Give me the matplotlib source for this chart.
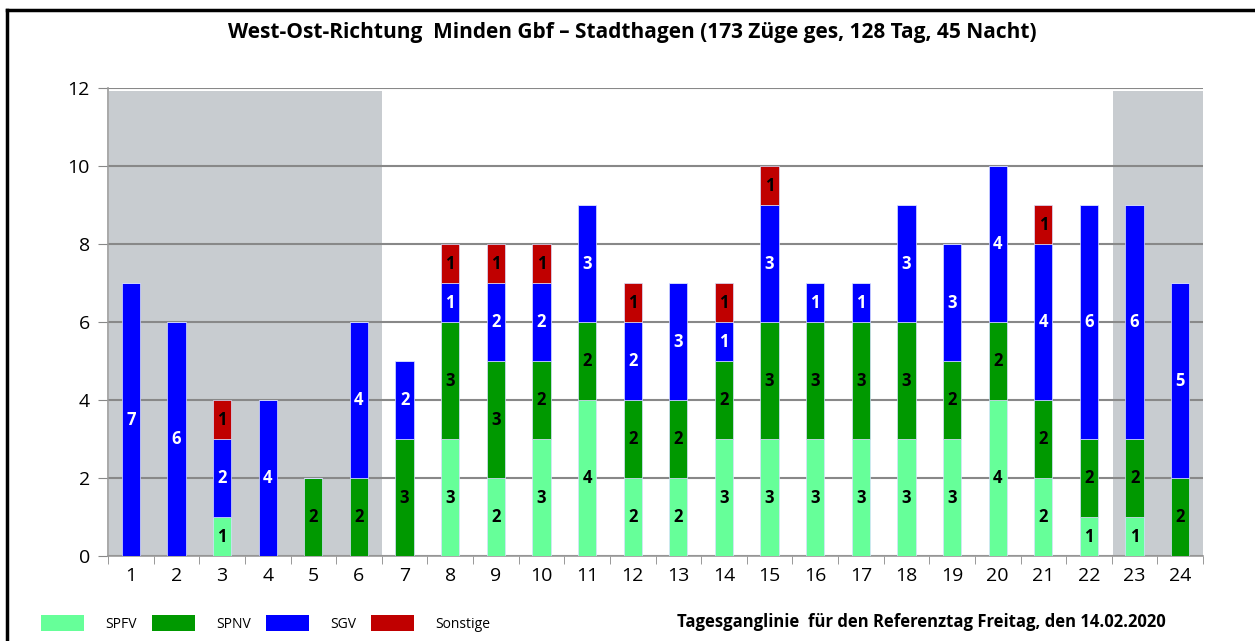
import numpy as np
import matplotlib
matplotlib.use("Agg")
import matplotlib.pyplot as plt
from matplotlib.patches import Patch
from matplotlib.lines import Line2D

plt.rcParams['font.family'] = ['Liberation Sans Narrow', 'Open Sans', 'DejaVu Sans']

# hourly train counts, hours 1..24
hours = list(range(1, 25))
spfv = [0, 0, 1, 0, 0, 0, 0, 3, 2, 3, 4, 2, 2, 3, 3, 3, 3, 3, 3, 4, 2, 1, 1, 0]
spnv = [0, 0, 0, 0, 2, 2, 3, 3, 3, 2, 2, 2, 2, 2, 3, 3, 3, 3, 2, 2, 2, 2, 2, 2]
sgv = [7, 6, 2, 4, 0, 4, 2, 1, 2, 2, 3, 2, 3, 1, 3, 1, 1, 3, 3, 4, 4, 6, 6, 5]
sonstige = [0, 0, 1, 0, 0, 0, 0, 1, 1, 1, 0, 1, 0, 1, 1, 0, 0, 0, 0, 0, 1, 0, 0, 0]

series = [
    ("SPFV", spfv, "#66ff99", "black"),
    ("SPNV", spnv, "#009900", "black"),
    ("SGV", sgv, "#0000ff", "white"),
    ("Sonstige", sonstige, "#c00000", "black"),
]

# night hours shaded grey
night_spans = [(0.5, 6.5), (22.5, 24.5)]

fig = plt.figure(figsize=(12.55, 6.41), dpi=100)
ax = fig.add_axes([0.0861, 0.1326, 0.8725, 0.7301])

for x0, x1 in night_spans:
    ax.axvspan(x0 + 0.02, x1, ymin=0, ymax=11.92 / 12, color="#c8ccd0", lw=0, zorder=0)

x = np.array(hours)
bottom = np.zeros(len(hours))
for name, vals, col, tcol in series:
    vals = np.array(vals)
    ax.bar(x, vals, width=0.4, bottom=bottom, color=col, edgecolor="#d8e0ff",
           linewidth=0.5, zorder=3, label=name)
    for xi, v, b in zip(x, vals, bottom):
        if v > 0:
            ax.text(xi, b + v / 2, str(v), ha="center", va="center", color=tcol,
                    fontsize=12, fontweight="bold", zorder=4)
    bottom = bottom + vals

ax.set_xlim(0.5, 24.5)
ax.set_ylim(0, 12)
ax.set_yticks(range(0, 13, 2))
ax.set_xticks(hours)
ax.set_xticks(np.arange(0.5, 25, 1), minor=True)
ax.tick_params(axis="x", which="major", length=0, labelsize=14, pad=8)
ax.tick_params(axis="x", which="minor", length=6, color="#888888")
ax.tick_params(axis="y", length=7, color="#888888", labelsize=14, pad=6)
ax.yaxis.grid(True, color="#888888", linewidth=1.5, zorder=1)
ax.set_axisbelow(True)
for s in ["top", "right"]:
    ax.spines[s].set_visible(False)
for s in ["left", "bottom"]:
    ax.spines[s].set_color("#999999")
    ax.spines[s].set_linewidth(1.2)

fig.text(0.504, 0.950, "West-Ost-Richtung  Minden Gbf \u2013 Stadthagen (173 Züge ges, 128 Tag, 45 Nacht)",
         ha="center", va="center", fontsize=15, fontweight="bold")

handles = [Patch(facecolor=c, edgecolor="none") for _, _, c, _ in series]
fig.legend(handles, [n for n, _, _, _ in series], loc="center left",
           bbox_to_anchor=(0.033, 0.027), ncol=4, frameon=False, fontsize=10,
           handlelength=3.1, handleheight=1.4, handletextpad=1.5,
           columnspacing=1.1, borderpad=0, borderaxespad=0)

fig.text(0.5394, 0.029, "Tagesganglinie  für den Referenztag Freitag, den 14.02.2020",
         ha="left", va="center", fontsize=12, fontweight="bold")

# outer frame (top and left edges visible)
fig.add_artist(Line2D([0.0056, 1.0], [0.984, 0.984], transform=fig.transFigure, color="black", lw=2.5))
fig.add_artist(Line2D([0.0056, 0.0056], [0.0, 0.984], transform=fig.transFigure, color="black", lw=2.5))

fig.savefig("out.png", dpi=100)
